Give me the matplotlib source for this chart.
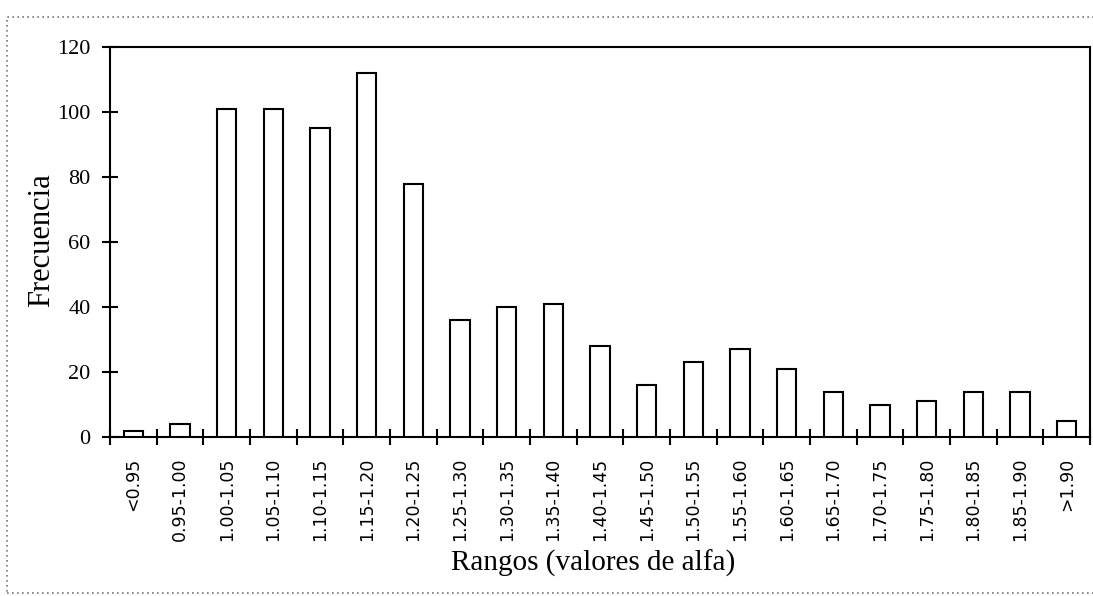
import matplotlib
matplotlib.use("Agg")
import matplotlib.pyplot as plt
from matplotlib.patches import Rectangle
import numpy as np

categories = ["<0.95", "0.95-1.00", "1.00-1.05", "1.05-1.10", "1.10-1.15",
              "1.15-1.20", "1.20-1.25", "1.25-1.30", "1.30-1.35", "1.35-1.40",
              "1.40-1.45", "1.45-1.50", "1.50-1.55", "1.55-1.60", "1.60-1.65",
              "1.65-1.70", "1.70-1.75", "1.75-1.80", "1.80-1.85", "1.85-1.90",
              ">1.90"]
frequencies = [2, 4, 101, 101, 95, 112, 78, 36, 40, 41, 28, 16, 23, 27, 21,
               14, 10, 11, 14, 14, 5]
y_ticks = [0, 20, 40, 60, 80, 100, 120]

W, H = 1093, 596
fig = plt.figure(figsize=(W / 100, H / 100), dpi=100)
ax = fig.add_axes([110 / W, 1 - 437 / H, 980 / W, 390 / H])

x = np.arange(len(categories))
ax.bar(x, frequencies, width=0.42, color="white", edgecolor="black",
       linewidth=1.5, zorder=3)

ax.set_xlim(-0.5, len(categories) - 0.5)
ax.set_ylim(0, 120)
ax.set_yticks(y_ticks)
ax.set_yticklabels([str(v) for v in y_ticks], family="Liberation Serif",
                   fontsize=16)
ax.set_xticks(x)
ax.set_xticklabels(categories, rotation=90, family="DejaVu Sans",
                   fontsize=12.5)
ax.set_xticks(np.arange(len(categories) + 1) - 0.5, minor=True)
ax.tick_params(axis="x", which="major", length=0, pad=15)
ax.tick_params(axis="x", which="minor", direction="inout", length=12, width=1.5)
ax.tick_params(axis="y", which="major", direction="inout", length=12, width=1.5,
               pad=8)
for s in ax.spines.values():
    s.set_linewidth(1.5)

ax.set_ylabel("Frecuencia", family="Liberation Serif", fontsize=22,
              ha="center", va="center")
ax.yaxis.set_label_coords((42 - 110) / 980, (437 - 240) / 390)
ax.set_xlabel("Rangos (valores de alfa)", family="Liberation Serif",
              fontsize=21, ha="center", va="center")
ax.xaxis.set_label_coords((593 - 110) / 980, -(563 - 437) / 390)

# outer dotted frame of the original figure
frame = Rectangle((7 / W, 1 - 593 / H), 1.2, (593 - 17) / H,
                  transform=fig.transFigure, fill=False, edgecolor="#777777",
                  linestyle=(0, (1, 2)), linewidth=1.2)
fig.patches.append(frame)

fig.savefig("out.png", dpi=100, facecolor="white")
